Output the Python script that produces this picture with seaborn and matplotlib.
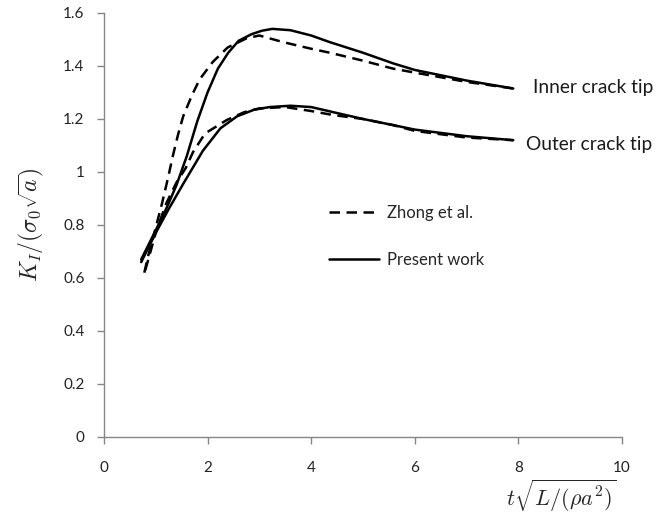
import matplotlib
matplotlib.use("Agg")
import matplotlib.pyplot as plt
from matplotlib.lines import Line2D
import seaborn as sns
import pandas as pd

# Normalised stress intensity factor vs. dimensionless time
inner_present_t = [0.72, 1.00, 1.20, 1.40, 1.60, 1.80, 2.00, 2.20, 2.40, 2.60, 2.85, 3.05, 3.25, 3.60, 4.00, 4.36, 5.00, 5.58, 6.00, 7.00, 7.90]
inner_present_k = [0.67, 0.78, 0.86, 0.95, 1.06, 1.19, 1.30, 1.39, 1.45, 1.495, 1.52, 1.533, 1.54, 1.535, 1.515, 1.49, 1.45, 1.41, 1.385, 1.345, 1.315]

inner_zhong_t = [0.78, 0.85, 1.00, 1.12, 1.24, 1.33, 1.43, 1.53, 1.70, 1.85, 2.10, 2.39, 2.76, 3.00, 3.46, 4.00, 4.36, 5.00, 5.58, 6.00, 7.00, 7.90]
inner_zhong_k = [0.62, 0.68, 0.79, 0.88, 0.98, 1.06, 1.14, 1.21, 1.29, 1.35, 1.415, 1.47, 1.505, 1.515, 1.49, 1.465, 1.45, 1.42, 1.39, 1.375, 1.34, 1.315]

outer_present_t = [0.72, 1.00, 1.25, 1.53, 1.91, 2.25, 2.57, 2.90, 3.20, 3.60, 4.00, 4.42, 5.00, 5.58, 6.00, 7.00, 7.90]
outer_present_k = [0.66, 0.77, 0.86, 0.955, 1.08, 1.165, 1.21, 1.235, 1.245, 1.25, 1.245, 1.226, 1.20, 1.177, 1.16, 1.135, 1.12]

outer_zhong_t = [0.80, 1.00, 1.20, 1.40, 1.58, 1.72, 1.95, 2.37, 2.70, 3.00, 3.50, 4.00, 4.42, 5.00, 5.58, 6.00, 7.00, 7.90]
outer_zhong_k = [0.63, 0.77, 0.88, 0.96, 1.015, 1.075, 1.145, 1.196, 1.225, 1.24, 1.245, 1.23, 1.215, 1.20, 1.177, 1.155, 1.13, 1.12]

x_ticks = [0, 2, 4, 6, 8, 10]
y_ticks = [0, 0.2, 0.4, 0.6, 0.8, 1.0, 1.2, 1.4, 1.6]
y_tick_labels = ["0", "0.2", "0.4", "0.6", "0.8", "1", "1.2", "1.4", "1.6"]

series = [
    ("Present work", "Inner", inner_present_t, inner_present_k),
    ("Zhong et al.", "Inner", inner_zhong_t, inner_zhong_k),
    ("Present work", "Outer", outer_present_t, outer_present_k),
    ("Zhong et al.", "Outer", outer_zhong_t, outer_zhong_k),
]
frames = []
for source, tip, t, k in series:
    frames.append(pd.DataFrame({"t": t, "K": k, "source": source, "tip": tip}))
df = pd.concat(frames, ignore_index=True)

sns.set_style("white")
plt.rcParams["font.family"] = ["Lato", "DejaVu Sans"]
plt.rcParams["mathtext.fontset"] = "cm"

fig = plt.figure(figsize=(6.66, 5.19), dpi=100)
ax = fig.add_axes([0.156, 0.158, 0.778, 0.817])

dash_pattern = (4.2, 2.6)
for (source, tip), grp in df.groupby(["source", "tip"], sort=False):
    ls_kw = {"dashes": [dash_pattern]} if source == "Zhong et al." else {}
    sns.lineplot(data=grp, x="t", y="K", ax=ax, color="black", lw=1.8,
                 sort=False, estimator=None, legend=False,
                 style="source" if ls_kw else None, **ls_kw)

ax.set_xlim(0, 10)
ax.set_ylim(0, 1.6)
ax.set_xticks(x_ticks)
ax.set_xticklabels([str(v) for v in x_ticks])
ax.set_yticks(y_ticks)
ax.set_yticklabels(y_tick_labels)

for side in ("top", "right"):
    ax.spines[side].set_visible(False)
for side in ("left", "bottom"):
    ax.spines[side].set_color("#868686")
    ax.spines[side].set_linewidth(1.0)
ax.tick_params(axis="x", direction="out", length=5, width=1, color="#868686",
               pad=12, labelsize=11, labelcolor="#222222")
ax.tick_params(axis="y", direction="out", length=5, width=1, color="#868686",
               pad=9, labelsize=11, labelcolor="#222222")
ax.tick_params(left=True, bottom=True)

ax.set_ylabel(r"$K_I/(\sigma_0\sqrt{a})$", fontsize=17, labelpad=12)
ax.set_xlabel(r"$t\sqrt{L/(\rho a^2)}$", fontsize=16)
ax.xaxis.set_label_coords(0.99, -0.095)
ax.xaxis.label.set_horizontalalignment("right")
ax.xaxis.label.set_verticalalignment("top")

# Curve labels beside the end of each pair of curves
ax.annotate("Inner crack tip", xy=(inner_present_t[-1], inner_present_k[-1]),
            xytext=(14, 1), textcoords="offset points", ha="left", va="center",
            fontsize=13.8, color="#1a1a1a", annotation_clip=False)
ax.annotate("Outer crack tip", xy=(outer_present_t[-1], outer_present_k[-1]),
            xytext=(9, -3), textcoords="offset points", ha="left", va="center",
            fontsize=13.8, color="#1a1a1a", annotation_clip=False)

handles = [
    Line2D([], [], color="black", lw=1.8, dashes=dash_pattern),
    Line2D([], [], color="black", lw=1.8),
]
ax.legend(handles, ["Zhong et al.", "Present work"], loc="upper left",
          bbox_to_anchor=(0.405, 0.583), frameon=False, fontsize=12,
          handlelength=3.0, handletextpad=0.5, labelspacing=1.85)

fig.savefig("out.png", dpi=100)
